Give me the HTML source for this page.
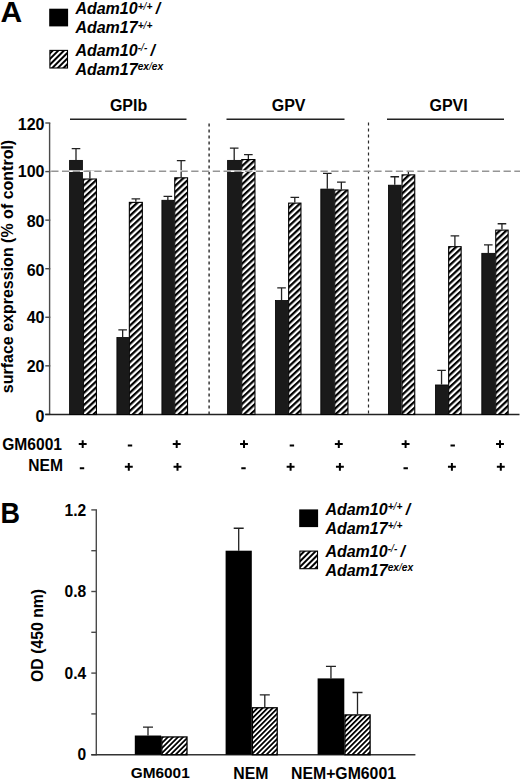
<!DOCTYPE html>
<html><head><meta charset="utf-8"><title>Figure</title>
<style>html,body{margin:0;padding:0;background:#fff;}svg{display:block;}text{font-family:"Liberation Sans",sans-serif;}</style>
</head><body>
<svg width="520" height="781" viewBox="0 0 520 781">
<defs>
<pattern id="hA" patternUnits="userSpaceOnUse" width="4.46" height="20" patternTransform="rotate(47)"><rect width="4.46" height="20" fill="#fff"/><rect width="2.25" height="20" fill="#000"/></pattern>
<pattern id="hB" patternUnits="userSpaceOnUse" width="3.57" height="20" patternTransform="rotate(45)"><rect width="3.57" height="20" fill="#fff"/><rect width="1.8" height="20" fill="#000"/></pattern>
<pattern id="hL" patternUnits="userSpaceOnUse" width="4.0" height="20" patternTransform="rotate(45)"><rect width="4.0" height="20" fill="#fff"/><rect width="2.0" height="20" fill="#000"/></pattern>
</defs>
<rect width="520" height="781" fill="#fff"/>
<text x="0.6" y="21.7" font-family="Liberation Sans" font-weight="bold" font-size="30">A</text>
<rect x="49.2" y="8.7" width="18.9" height="17.7" fill="#000"/>
<rect x="49.9" y="50.4" width="17.6" height="17.6" fill="url(#hL)" stroke="#000" stroke-width="1.1"/>
<text x="75.4" y="14.4" font-family="Liberation Sans" font-weight="bold" font-style="italic" font-size="16">Adam10<tspan font-size="10.2" dy="-4.6">+<tspan font-weight="normal">/</tspan>+</tspan><tspan dy="4.6" dx="-1.2"> /</tspan></text>
<text x="75.4" y="33.2" font-family="Liberation Sans" font-weight="bold" font-style="italic" font-size="16">Adam17<tspan font-size="10.2" dy="-4.6">+<tspan font-weight="normal">/</tspan>+</tspan></text>
<text x="75.4" y="56.0" font-family="Liberation Sans" font-weight="bold" font-style="italic" font-size="16">Adam10<tspan font-size="10.2" dy="-4.6">-<tspan font-weight="normal">/</tspan>-</tspan><tspan dy="4.6" dx="-1.2"> /</tspan></text>
<text x="75.4" y="75.0" font-family="Liberation Sans" font-weight="bold" font-style="italic" font-size="16">Adam17<tspan font-size="10.2" dy="-4.6">ex<tspan font-weight="normal">/</tspan>ex</tspan></text>
<text x="128.6" y="111.4" font-family="Liberation Sans" font-weight="bold" font-size="16" text-anchor="middle">GPIb</text>
<line x1="70" y1="119.3" x2="186.5" y2="119.3" stroke="#222" stroke-width="1.4"/>
<text x="288.6" y="111.4" font-family="Liberation Sans" font-weight="bold" font-size="16" text-anchor="middle">GPV</text>
<line x1="226.5" y1="119.3" x2="344.5" y2="119.3" stroke="#222" stroke-width="1.4"/>
<text x="448.6" y="111.4" font-family="Liberation Sans" font-weight="bold" font-size="16" text-anchor="middle">GPVI</text>
<line x1="387" y1="119.3" x2="504" y2="119.3" stroke="#222" stroke-width="1.4"/>
<line x1="49.6" y1="123.0" x2="49.6" y2="414.5" stroke="#4a4a4a" stroke-width="1.4"/>
<line x1="45.3" y1="414.40" x2="50.3" y2="414.40" stroke="#4a4a4a" stroke-width="1.4"/>
<text x="44.5" y="421.50" font-family="Liberation Sans" font-weight="bold" font-size="16" text-anchor="end">0</text>
<line x1="45.3" y1="365.83" x2="50.3" y2="365.83" stroke="#4a4a4a" stroke-width="1.4"/>
<text x="44.5" y="372.43" font-family="Liberation Sans" font-weight="bold" font-size="16" text-anchor="end">20</text>
<line x1="45.3" y1="317.27" x2="50.3" y2="317.27" stroke="#4a4a4a" stroke-width="1.4"/>
<text x="44.5" y="323.27" font-family="Liberation Sans" font-weight="bold" font-size="16" text-anchor="end">40</text>
<line x1="45.3" y1="268.70" x2="50.3" y2="268.70" stroke="#4a4a4a" stroke-width="1.4"/>
<text x="44.5" y="275.80" font-family="Liberation Sans" font-weight="bold" font-size="16" text-anchor="end">60</text>
<line x1="45.3" y1="220.14" x2="50.3" y2="220.14" stroke="#4a4a4a" stroke-width="1.4"/>
<text x="44.5" y="226.94" font-family="Liberation Sans" font-weight="bold" font-size="16" text-anchor="end">80</text>
<line x1="45.3" y1="171.57" x2="50.3" y2="171.57" stroke="#4a4a4a" stroke-width="1.4"/>
<text x="44.5" y="177.17" font-family="Liberation Sans" font-weight="bold" font-size="16" text-anchor="end">100</text>
<line x1="45.3" y1="123.00" x2="50.3" y2="123.00" stroke="#4a4a4a" stroke-width="1.4"/>
<text x="44.5" y="130.00" font-family="Liberation Sans" font-weight="bold" font-size="16" text-anchor="end">120</text>
<line x1="45.3" y1="414.5" x2="519.5" y2="414.5" stroke="#222" stroke-width="1.4"/>
<text transform="translate(13.2,266.5) rotate(-90)" font-family="Liberation Sans" font-weight="bold" font-size="16" text-anchor="middle">surface expression (% of control)</text>
<line x1="209.1" y1="123.4" x2="209.1" y2="414.5" stroke="#2a2a2a" stroke-width="1.4" stroke-dasharray="3.2 2.8"/>
<line x1="368.5" y1="122.4" x2="368.5" y2="414.5" stroke="#2a2a2a" stroke-width="1.2" stroke-dasharray="3.2 2.8"/>
<path d="M76.00 159.97V148.54M71.70 148.54H80.30" stroke="#222" stroke-width="1.3" fill="none"/>
<path d="M89.90 178.47V170.92M85.60 170.92H94.20" stroke="#222" stroke-width="1.3" fill="none"/>
<path d="M122.65 337.12V329.82M118.35 329.82H126.95" stroke="#222" stroke-width="1.3" fill="none"/>
<path d="M135.85 201.83V198.91M131.55 198.91H140.15" stroke="#222" stroke-width="1.3" fill="none"/>
<path d="M167.85 199.88V196.47M163.55 196.47H172.15" stroke="#222" stroke-width="1.3" fill="none"/>
<path d="M181.15 177.25V160.70M176.85 160.70H185.45" stroke="#222" stroke-width="1.3" fill="none"/>
<path d="M234.20 159.97V148.05M229.90 148.05H238.50" stroke="#222" stroke-width="1.3" fill="none"/>
<path d="M248.35 159.00V154.62M244.05 154.62H252.65" stroke="#222" stroke-width="1.3" fill="none"/>
<path d="M281.55 300.13V287.97M277.25 287.97H285.85" stroke="#222" stroke-width="1.3" fill="none"/>
<path d="M294.80 202.56V197.45M290.50 197.45H299.10" stroke="#222" stroke-width="1.3" fill="none"/>
<path d="M327.30 188.69V173.36M323.00 173.36H331.60" stroke="#222" stroke-width="1.3" fill="none"/>
<path d="M341.35 189.42V182.12M337.05 182.12H345.65" stroke="#222" stroke-width="1.3" fill="none"/>
<path d="M394.75 184.79V176.76M390.45 176.76H399.05" stroke="#222" stroke-width="1.3" fill="none"/>
<path d="M408.40 174.33V171.41M404.10 171.41H412.70" stroke="#222" stroke-width="1.3" fill="none"/>
<path d="M441.55 384.57V370.46M437.25 370.46H445.85" stroke="#222" stroke-width="1.3" fill="none"/>
<path d="M454.90 246.11V235.89M450.60 235.89H459.20" stroke="#222" stroke-width="1.3" fill="none"/>
<path d="M488.30 252.93V244.90M484.00 244.90H492.60" stroke="#222" stroke-width="1.3" fill="none"/>
<path d="M501.95 229.57V223.73M497.65 223.73H506.25" stroke="#222" stroke-width="1.3" fill="none"/>
<rect x="69.60" y="160.37" width="12.80" height="254.13" fill="#1a1a1a" stroke="#000" stroke-width="0.8"/>
<rect x="83.35" y="179.02" width="13.10" height="235.48" fill="url(#hA)" stroke="#000" stroke-width="1.1"/>
<rect x="116.90" y="337.52" width="11.50" height="76.98" fill="#1a1a1a" stroke="#000" stroke-width="0.8"/>
<rect x="129.35" y="202.38" width="13.00" height="212.12" fill="url(#hA)" stroke="#000" stroke-width="1.1"/>
<rect x="161.90" y="200.28" width="11.90" height="214.22" fill="#1a1a1a" stroke="#000" stroke-width="0.8"/>
<rect x="174.75" y="177.80" width="12.80" height="236.70" fill="url(#hA)" stroke="#000" stroke-width="1.1"/>
<rect x="227.60" y="160.37" width="13.20" height="254.13" fill="#1a1a1a" stroke="#000" stroke-width="0.8"/>
<rect x="241.75" y="159.55" width="13.20" height="254.95" fill="url(#hA)" stroke="#000" stroke-width="1.1"/>
<rect x="275.40" y="300.53" width="12.30" height="113.97" fill="#1a1a1a" stroke="#000" stroke-width="0.8"/>
<rect x="288.65" y="203.11" width="12.30" height="211.39" fill="url(#hA)" stroke="#000" stroke-width="1.1"/>
<rect x="320.80" y="189.09" width="13.00" height="225.41" fill="#1a1a1a" stroke="#000" stroke-width="0.8"/>
<rect x="334.75" y="189.97" width="13.20" height="224.53" fill="url(#hA)" stroke="#000" stroke-width="1.1"/>
<rect x="388.40" y="185.19" width="12.70" height="229.31" fill="#1a1a1a" stroke="#000" stroke-width="0.8"/>
<rect x="402.05" y="174.88" width="12.70" height="239.62" fill="url(#hA)" stroke="#000" stroke-width="1.1"/>
<rect x="435.40" y="384.97" width="12.30" height="29.53" fill="#1a1a1a" stroke="#000" stroke-width="0.8"/>
<rect x="448.65" y="246.66" width="12.50" height="167.84" fill="url(#hA)" stroke="#000" stroke-width="1.1"/>
<rect x="481.80" y="253.33" width="13.00" height="161.17" fill="#1a1a1a" stroke="#000" stroke-width="0.8"/>
<rect x="495.75" y="230.12" width="12.40" height="184.38" fill="url(#hA)" stroke="#000" stroke-width="1.1"/>
<line x1="51.2" y1="171.17" x2="520" y2="171.17" stroke="#fff" stroke-width="1.6"/>
<line x1="51.2" y1="171.17" x2="520" y2="171.17" stroke="#959595" stroke-width="1.5" stroke-dasharray="7.3 3.47"/>
<text x="62" y="449.8" font-family="Liberation Sans" font-weight="bold" font-size="15.6" text-anchor="end">GM6001</text>
<text x="63" y="471.0" font-family="Liberation Sans" font-weight="bold" font-size="15.6" text-anchor="end">NEM</text>
<path d="M78.75 444.10H86.65M82.70 440.25V447.95M127.80 445.50H132.20M172.75 444.10H180.65M176.70 440.25V447.95M240.05 444.10H247.95M244.00 440.25V447.95M289.70 445.50H294.10M334.85 444.10H342.75M338.80 440.25V447.95M401.65 444.10H409.55M405.60 440.25V447.95M450.50 445.50H454.90M496.05 444.10H503.95M500.00 440.25V447.95M79.80 468.20H84.20M124.85 466.80H132.75M128.80 462.95V470.65M173.55 466.80H181.45M177.50 462.95V470.65M241.30 468.20H245.70M286.65 466.80H294.55M290.60 462.95V470.65M335.95 466.80H343.85M339.90 462.95V470.65M403.50 468.20H407.90M447.95 466.80H455.85M451.90 462.95V470.65M496.85 466.80H504.75M500.80 462.95V470.65" stroke="#000" stroke-width="2.0" fill="none"/>
<text transform="translate(0.5,522.6) scale(0.9,1)" font-family="Liberation Sans" font-weight="bold" font-size="30">B</text>
<rect x="299.2" y="509.4" width="18.9" height="17.7" fill="#000"/>
<rect x="299.9" y="551.1" width="17.6" height="17.6" fill="url(#hL)" stroke="#000" stroke-width="1.1"/>
<text x="325.4" y="515.1" font-family="Liberation Sans" font-weight="bold" font-style="italic" font-size="16">Adam10<tspan font-size="10.2" dy="-4.6">+<tspan font-weight="normal">/</tspan>+</tspan><tspan dy="4.6" dx="-1.2"> /</tspan></text>
<text x="325.4" y="533.9" font-family="Liberation Sans" font-weight="bold" font-style="italic" font-size="16">Adam17<tspan font-size="10.2" dy="-4.6">+<tspan font-weight="normal">/</tspan>+</tspan></text>
<text x="325.4" y="556.7" font-family="Liberation Sans" font-weight="bold" font-style="italic" font-size="16">Adam10<tspan font-size="10.2" dy="-4.6">-<tspan font-weight="normal">/</tspan>-</tspan><tspan dy="4.6" dx="-1.2"> /</tspan></text>
<text x="325.4" y="575.7" font-family="Liberation Sans" font-weight="bold" font-style="italic" font-size="16">Adam17<tspan font-size="10.2" dy="-4.6">ex<tspan font-weight="normal">/</tspan>ex</tspan></text>
<line x1="96.3" y1="509.9" x2="96.3" y2="754.7" stroke="#4a4a4a" stroke-width="1.4"/>
<line x1="91.3" y1="754.70" x2="97" y2="754.70" stroke="#4a4a4a" stroke-width="1.4"/>
<line x1="91.3" y1="713.90" x2="97" y2="713.90" stroke="#4a4a4a" stroke-width="1.4"/>
<line x1="91.3" y1="673.10" x2="97" y2="673.10" stroke="#4a4a4a" stroke-width="1.4"/>
<line x1="91.3" y1="632.30" x2="97" y2="632.30" stroke="#4a4a4a" stroke-width="1.4"/>
<line x1="91.3" y1="591.50" x2="97" y2="591.50" stroke="#4a4a4a" stroke-width="1.4"/>
<line x1="91.3" y1="550.70" x2="97" y2="550.70" stroke="#4a4a4a" stroke-width="1.4"/>
<line x1="91.3" y1="509.90" x2="97" y2="509.90" stroke="#4a4a4a" stroke-width="1.4"/>
<text x="86.2" y="760.30" font-family="Liberation Sans" font-weight="bold" font-size="15.6" text-anchor="end">0</text>
<text x="86.2" y="678.70" font-family="Liberation Sans" font-weight="bold" font-size="15.6" text-anchor="end">0.4</text>
<text x="86.2" y="597.10" font-family="Liberation Sans" font-weight="bold" font-size="15.6" text-anchor="end">0.8</text>
<text x="86.2" y="515.50" font-family="Liberation Sans" font-weight="bold" font-size="15.6" text-anchor="end">1.2</text>
<line x1="91.3" y1="754.7" x2="415.4" y2="754.7" stroke="#333" stroke-width="1.4"/>
<text transform="translate(43.2,635.4) rotate(-90)" font-family="Liberation Sans" font-weight="bold" font-size="15.8" text-anchor="middle">OD (450 nm)</text>
<path d="M148.00 735.52V727.16M143.00 727.16H153.00" stroke="#222" stroke-width="1.3" fill="none"/>
<rect x="134.8" y="735.52" width="26.40" height="19.18" fill="#000"/>
<rect x="161.80" y="736.94" width="25.20" height="17.76" fill="url(#hB)" stroke="#000" stroke-width="1.3"/>
<path d="M238.70 550.70V528.26M233.70 528.26H243.70" stroke="#222" stroke-width="1.3" fill="none"/>
<path d="M264.80 707.17V694.93M259.80 694.93H269.80" stroke="#222" stroke-width="1.3" fill="none"/>
<rect x="225.6" y="550.70" width="26.20" height="204.00" fill="#000"/>
<rect x="252.40" y="707.77" width="24.80" height="46.93" fill="url(#hB)" stroke="#000" stroke-width="1.3"/>
<path d="M330.95 678.40V666.37M325.95 666.37H335.95" stroke="#222" stroke-width="1.3" fill="none"/>
<path d="M357.50 714.31V692.48M352.50 692.48H362.50" stroke="#222" stroke-width="1.3" fill="none"/>
<rect x="317.6" y="678.40" width="26.70" height="76.30" fill="#000"/>
<rect x="344.90" y="714.91" width="25.20" height="39.79" fill="url(#hB)" stroke="#000" stroke-width="1.3"/>
<text x="160.2" y="777.9" font-family="Liberation Sans" font-weight="bold" font-size="15.4" text-anchor="middle">GM6001</text>
<text x="250.9" y="778.7" font-family="Liberation Sans" font-weight="bold" font-size="15.8" text-anchor="middle">NEM</text>
<text x="343.5" y="778.6" font-family="Liberation Sans" font-weight="bold" font-size="15.8" text-anchor="middle">NEM+GM6001</text>
</svg>
</body></html>
